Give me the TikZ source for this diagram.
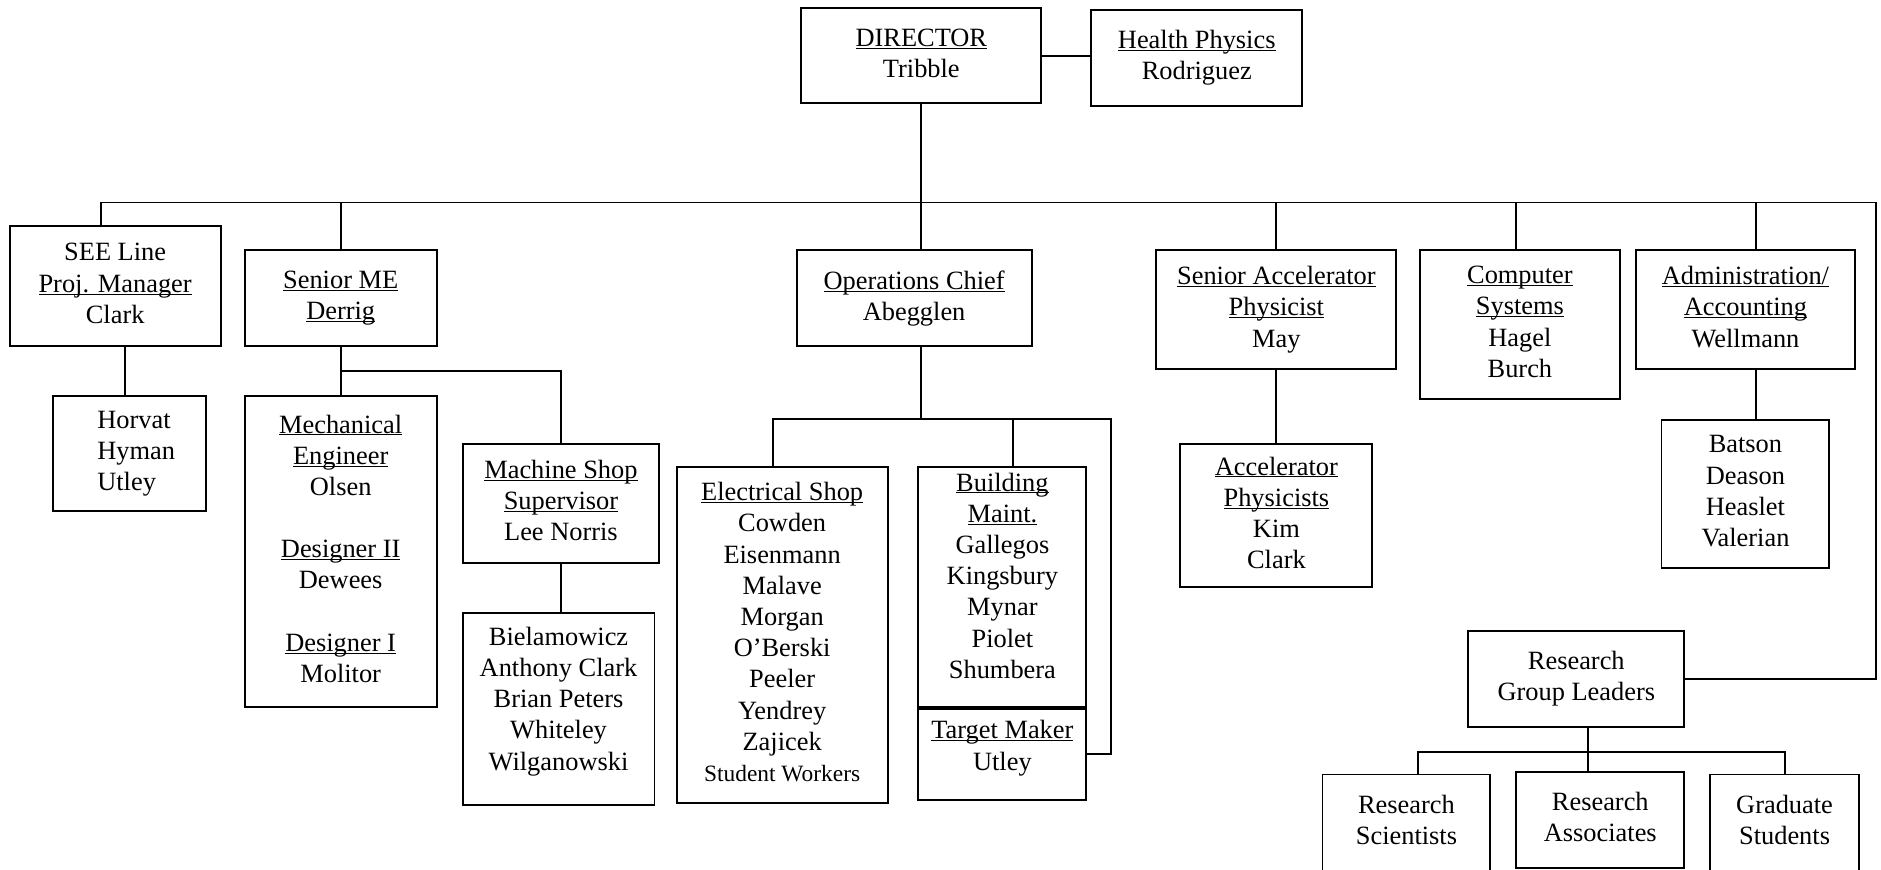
\documentclass[tikz,border=0pt]{standalone}
\usepackage{fontspec}
\setmainfont{Liberation Serif}
\usetikzlibrary{positioning}
\newcommand{\hd}[1]{\underline{\raisebox{0pt}[\height][0pt]{#1}}}
\tikzset{
  unit/.style={draw=black, rectangle, align=center, inner sep=0pt,
    font=\fontsize{22}{26}\selectfont,
    execute at begin node=\vphantom{Ah},
    execute at end node=\vphantom{gy}},
  link/.style={draw=black},
}

\begin{document}
\begin{tikzpicture}[x=1pt,y=1pt,line width=1.6pt]
  \useasboundingbox (0,0) rectangle (1568,-725);

  \node[unit,minimum width=200pt,minimum height=79pt] (director) at (768,-46.5) {\hd{DIRECTOR}\\Tribble};
  \node[unit,minimum width=176pt,minimum height=80pt,right=40pt of director,yshift=-1.5pt] (health) {\hd{Health Physics}\\Rodriguez};
  \draw[link] (director.east) -- (director.east -| health.west);

  \coordinate[below=82pt of director.south] (busc);
  \coordinate[left=684pt of busc] (seebus);
  \coordinate[left=484pt of busc] (mebus);
  \coordinate[right=296pt of busc] (accbus);
  \coordinate[right=496pt of busc] (compbus);
  \coordinate[right=696pt of busc] (admbus);
  \coordinate[right=796pt of busc] (busr);

  \node[unit,minimum width=176pt,minimum height=100pt,below=19pt of seebus,xshift=12pt] (seeline) {SEE Line\\\hd{Proj. Manager}\\Clark};
  \node[unit,minimum width=160pt,minimum height=80pt,below=39pt of mebus] (seniorme) {\hd{Senior ME}\\\hd{Derrig}};
  \node[unit,minimum width=196pt,minimum height=80pt,below=39pt of busc,xshift=-6pt] (opchief) {\hd{Operations Chief}\\Abegglen};
  \node[unit,minimum width=200pt,minimum height=99pt,below=39pt of accbus] (senacc) {\hd{Senior Accelerator}\\\hd{Physicist}\\May};
  \node[unit,minimum width=167pt,minimum height=124pt,below=39pt of compbus,xshift=3pt] (compsys) {\hd{Computer}\\\hd{Systems}\\Hagel\\Burch};
  \node[unit,minimum width=182pt,minimum height=99pt,below=39pt of admbus,xshift=-9pt] (admin) {\hd{Administration/}\\\hd{Accounting}\\Wellmann};

  \node[unit,align=left,minimum width=128pt,minimum height=96pt,below=40pt of seeline,xshift=12pt] (horvat) {\hspace*{11pt}Horvat\\\hspace*{11pt}Hyman\\\hspace*{11pt}Utley};
  \node[unit,minimum width=160pt,minimum height=259pt,below=40pt of seniorme] (mech) {\hd{Mechanical}\\\hd{Engineer}\\Olsen\\ \\\hd{Designer II}\\Dewees\\ \\\hd{Designer I}\\Molitor};
  \node[unit,minimum width=164pt,minimum height=99pt,below right=80pt and 20pt of seniorme.south east,anchor=north west] (machine) {\hd{Machine Shop}\\\hd{Supervisor}\\Lee Norris};
  \node[unit,minimum width=160pt,minimum height=160pt,below=40pt of machine,xshift=-2pt] (shopcrew) {Bielamowicz\\Anthony Clark\\Brian Peters\\Whiteley\\Wilganowski\rule[-17pt]{0pt}{0pt}};

  \node[unit,minimum width=176pt,minimum height=280pt,below=99pt of opchief,xshift=-110pt] (elec) {\hd{Electrical Shop}\\Cowden\\Eisenmann\\Malave\\Morgan\\O'Berski\\Peeler\\Yendrey\\Zajicek\\{\fontsize{19.5}{26}\selectfont Student Workers}};
  \node[unit,minimum width=140pt,minimum height=200pt,right=24pt of elec.north east,anchor=north west] (bldg) {\hd{Building}\\\hd{Maint.}\\Gallegos\\Kingsbury\\Mynar\\Piolet\\Shumbera\rule[-19pt]{0pt}{0pt}};
  \node[unit,minimum width=140pt,minimum height=76pt,below=0pt of bldg] (target) {\hd{Target Maker}\\Utley\rule[-15pt]{0pt}{0pt}};

  \node[unit,minimum width=160pt,minimum height=119pt,below=61pt of senacc] (accel) {\hd{Accelerator}\\\hd{Physicists}\\Kim\\Clark};
  \node[unit,minimum width=140pt,minimum height=123pt,below=41pt of admin] (clerks) {Batson\\Deason\\Heaslet\\Valerian};

  \node[unit,minimum width=180pt,minimum height=80pt] (rgl) at (1314,-566) {Research\\Group Leaders};
  \node[unit,minimum width=140pt,minimum height=80pt,below=36pt of rgl,xshift=20pt] (assoc) {Research\\Associates};
  \node[unit,minimum width=140pt,minimum height=81pt,left=20pt of assoc,yshift=-2.5pt] (sci) {Research\\Scientists};
  \node[unit,minimum width=124pt,minimum height=81pt,right=20pt of assoc,yshift=-2.5pt] (grad) {Graduate\\Students};

  \draw[link] (director.south) -- (busc);
  \draw[link] (seebus) -- (busr) |- (rgl.east);
  \draw[link] (seebus) -- (seebus |- seeline.north);
  \draw[link] (mebus) -- (seniorme.north);
  \draw[link] (busc) -- (busc |- opchief.north);
  \draw[link] (accbus) -- (senacc.north);
  \draw[link] (compbus) -- (compbus |- compsys.north);
  \draw[link] (admbus) -- (admbus |- admin.north);

  \draw[link] ([xshift=-4pt]horvat.north) -- ([xshift=-4pt]horvat.north |- seeline.south);
  \coordinate[below=20pt of seniorme.south] (mesplit);
  \draw[link] (seniorme.south) -- (mech.north);
  \draw[link] (mesplit) -| (machine.north);
  \draw[link] (machine.south) -- (machine.south |- shopcrew.north);

  \coordinate[below=60pt of busc |- opchief.south] (opsplit);
  \coordinate[right=20pt of target.east] (tgtr);
  \draw[link] (busc |- opchief.south) -- (opsplit);
  \draw[link] ([xshift=-8pt]elec.north) |- (tgtr |- opsplit) -- (tgtr) -- (target.east);
  \draw[link] ([xshift=9pt]bldg.north) -- ([xshift=9pt]bldg.north |- opsplit);

  \draw[link] (senacc.south) -- (accel.north);
  \draw[link] (admbus |- admin.south) -- (admbus |- clerks.north);

  \coordinate[below=20pt of rgl.south,xshift=10pt] (rglsplit);
  \draw[link] (rglsplit |- rgl.south) -- (rglsplit |- assoc.north);
  \draw[link] ([xshift=10pt]sci.north) |- (rglsplit) -| (grad.north);
\end{tikzpicture}
\end{document}
